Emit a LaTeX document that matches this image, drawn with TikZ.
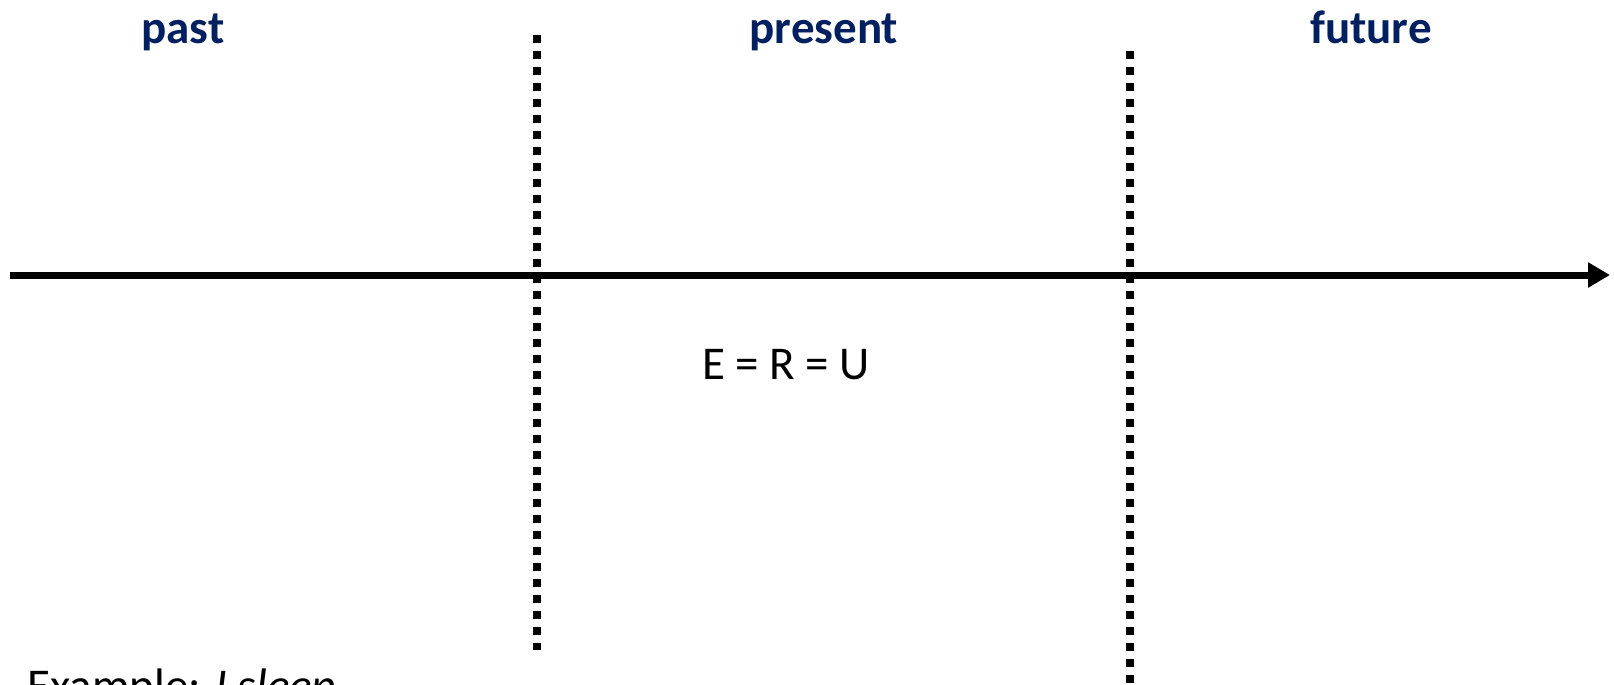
\documentclass[tikz,border=0pt]{standalone}
\usepackage{fontspec}
\setmainfont{Carlito}
\usetikzlibrary{arrows.meta}
\definecolor{headblue}{HTML}{002060}
\tikzset{
  head/.style={font=\fontsize{23.5}{28}\selectfont\bfseries, text=headblue, anchor=base, inner sep=0pt},
  plain/.style={font=\fontsize{23.5}{28}\selectfont, anchor=base, inner sep=0pt},
  divider/.style={line width=4pt, dash pattern=on 4pt off 4pt},
  axis/.style={line width=3.5pt, -{Triangle[length=11pt,width=12pt]}}
}
\begin{document}
\begin{tikzpicture}[x=0.5pt,y=-0.5pt]
\useasboundingbox (0,0) rectangle (1614,685);
\clip (0,0) rectangle (1614,685);
\fill[white] (0,0) rectangle (1614,685);
\node[head] (past) at (183,43) {past};
\node[head] (present) at (824,43) {present};
\node[head] (future) at (1371,43) {future};
\coordinate (l1) at (537,35);
\coordinate (l2) at (537,650);
\coordinate (r1) at (1130,51);
\coordinate (r2) at (1130,690);
\draw[divider] (l1) -- (l2);
\draw[divider] (r1) -- (r2);
\coordinate (a1) at (10,275);
\coordinate (a2) at (1610,275);
\draw[axis] (a1) -- (a2);
\node[plain] (eq) at (786,379) {E = R = U};
\node[plain, anchor=base west] (ex) at (27,701) {Example: \textit{I sleep}};
\end{tikzpicture}
\end{document}
